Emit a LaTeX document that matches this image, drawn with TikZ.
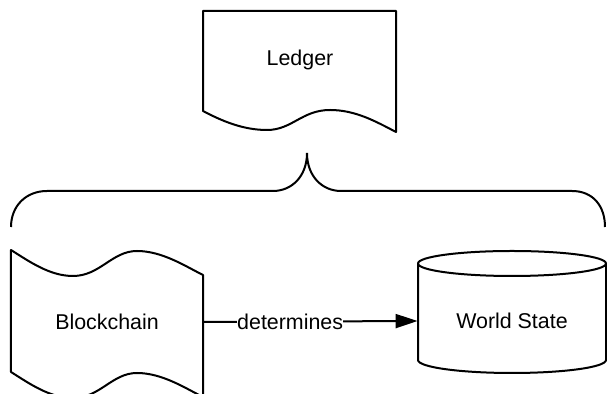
\documentclass[tikz,border=0pt]{standalone}
\usepackage{fontspec}
\setmainfont{Liberation Sans}
\usetikzlibrary{arrows.meta}
\begin{document}
\begin{tikzpicture}[x=0.5pt,y=-0.5pt,
  shapeline/.style={draw=black,line width=1pt,fill=white,line join=round},
  holder/.style={draw=none,inner sep=0pt,font=\fontsize{10.7pt}{13pt}\selectfont},
  lbl/.style={fill=white,inner sep=0pt,font=\fontsize{10.7pt}{13pt}\selectfont},
  conn/.style={draw=black,line width=1pt,-{Triangle[length=11pt,width=7pt]}}]
\useasboundingbox (0,0) rectangle (607,394);
\clip (0,0) rectangle (607,394);
% Ledger (document shape)
\path[shapeline] (203,11) -- (396,11) -- (396,132)
  .. controls (375,121) and (355,110) .. (330,110)
  .. controls (302,110) and (292,130) .. (267,130)
  .. controls (243,130) and (222,121) .. (203,111) -- cycle;
% Brace
\draw[line width=1pt] (11,227) .. controls (11,206) and (26,191) .. (47,191)
  -- (273,191) .. controls (292,191) and (307,176) .. (307,153)
  .. controls (307,176) and (322,191) .. (341,191)
  -- (572,191) .. controls (593,191) and (605,206) .. (605,227);
% Blockchain (tape shape)
\path[shapeline] (11,250)
  .. controls (30,262) and (50,276) .. (73,276)
  .. controls (100,276) and (112,251) .. (137,251)
  .. controls (162,251) and (185,266) .. (203,275)
  -- (203,397)
  .. controls (185,388) and (162,373) .. (137,373)
  .. controls (112,373) and (100,398) .. (73,398)
  .. controls (50,398) and (30,384) .. (11,372) -- cycle;
% World State (cylinder)
\path[shapeline] (418,263.5) -- (418,360)
  .. controls (418,367.2) and (460.1,373) .. (512,373)
  .. controls (563.9,373) and (606,367.2) .. (606,360)
  -- (606,263.5)
  .. controls (606,256.6) and (563.9,251) .. (512,251)
  .. controls (460.1,251) and (418,256.6) .. (418,263.5) -- cycle;
\draw[line width=1pt] (418,263.5)
  .. controls (418,270.4) and (460.1,276) .. (512,276)
  .. controls (563.9,276) and (606,270.4) .. (606,263.5);
% Text holders
\node[holder,minimum width=96.5pt] (ledger) at (300,60) {Ledger};
\node[holder,minimum width=96pt] (blockchain) at (107,322) {Blockchain};
\node[holder,minimum width=94pt] (worldstate) at (512,321) {World State};
% Connector
\draw[conn] (blockchain.east) -- node[lbl,pos=0.405] {determines} (worldstate.west);
\end{tikzpicture}
\end{document}
